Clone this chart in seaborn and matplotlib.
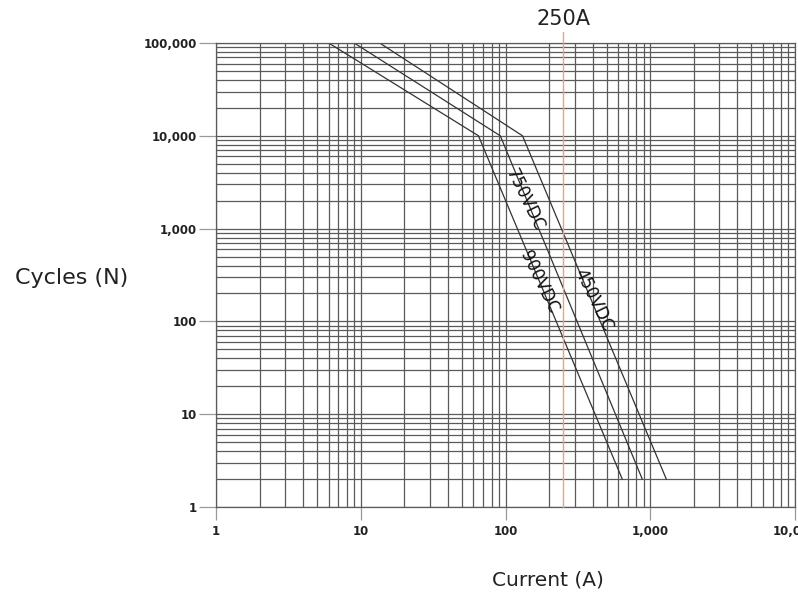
import numpy as np
import pandas as pd
import seaborn as sns
import matplotlib
matplotlib.use("Agg")
import matplotlib.pyplot as plt
from matplotlib.ticker import FuncFormatter, LogLocator

# electrical life curves
cycles = [100000, 10000, 2]
current_900 = [6, 65, 640]
current_750 = [9, 92, 880]
current_450 = [13.5, 131, 1290]
series_names = ["900VDC", "750VDC", "450VDC"]
marker_current = 250

df = pd.DataFrame({
    "current": current_900 + current_750 + current_450,
    "cycles": cycles * 3,
    "voltage": [n for n in series_names for _ in cycles],
})

sns.set_style("white")
plt.rcParams["font.family"] = ["DejaVu Sans"]

fig = plt.figure(figsize=(7.98, 6.08), dpi=100)
ax = fig.add_axes([0.2707, 0.1661, 0.7256, 0.7632])

sns.lineplot(data=df, x="current", y="cycles", hue="voltage",
             palette=["#333333"] * 3, linewidth=0.9, legend=False,
             estimator=None, sort=False, ax=ax)

ax.set_xscale("log")
ax.set_yscale("log")
ax.set_xlim(1, 10000)
ax.set_ylim(1, 100000)

ax.xaxis.set_major_locator(LogLocator(base=10, numticks=10))
ax.yaxis.set_major_locator(LogLocator(base=10, numticks=10))
ax.xaxis.set_minor_locator(LogLocator(base=10, subs=np.arange(2, 10), numticks=20))
ax.yaxis.set_minor_locator(LogLocator(base=10, subs=np.arange(2, 10), numticks=20))
fmt = FuncFormatter(lambda v, p: f"{int(round(v)):,}")
ax.xaxis.set_major_formatter(fmt)
ax.yaxis.set_major_formatter(fmt)

ax.grid(which="both", color="#5a5a5a", linewidth=0.9)
for s in ax.spines.values():
    s.set_color("#5a5a5a")
    s.set_linewidth(0.9)

ax.tick_params(bottom=True, left=True, which="major")
ax.tick_params(axis="y", which="major", length=12, width=0.9, color="#999999",
               pad=2, labelsize=8.5, labelcolor="#222222")
ax.tick_params(axis="x", which="major", length=9, width=0.9, color="#999999",
               pad=4, labelsize=8.5, labelcolor="#222222")
ax.tick_params(which="minor", length=0)
for lab in ax.get_xticklabels() + ax.get_yticklabels():
    lab.set_fontweight("bold")

# 250A reference line
ax.plot([marker_current, marker_current], [1, 1.32e5], color="#eea27a",
        linewidth=1.0, clip_on=False, zorder=3)
ax.text(marker_current, 1.8e5, f"{marker_current}A", ha="center", va="center",
        fontsize=15, color="#222222", clip_on=False)

# curve labels
label_style = dict(rotation=-64, ha="center", va="center", fontsize=12,
                   color="#111111", rotation_mode="anchor")
ax.text(135, 2030, "750VDC", **label_style)
ax.text(172, 266, "900VDC", **label_style)
ax.text(405, 170, "450VDC", **label_style)

ax.set_ylabel("Cycles (N)", rotation=0, fontsize=16, color="#222222",
              ha="center", va="center")
ax.yaxis.set_label_coords(-0.249, 0.494)
ax.set_xlabel("Current (A)", fontsize=14.5, color="#222222", ha="center", va="center")
ax.xaxis.set_label_coords(0.573, -0.157)

fig.savefig("out.png", dpi=100)
